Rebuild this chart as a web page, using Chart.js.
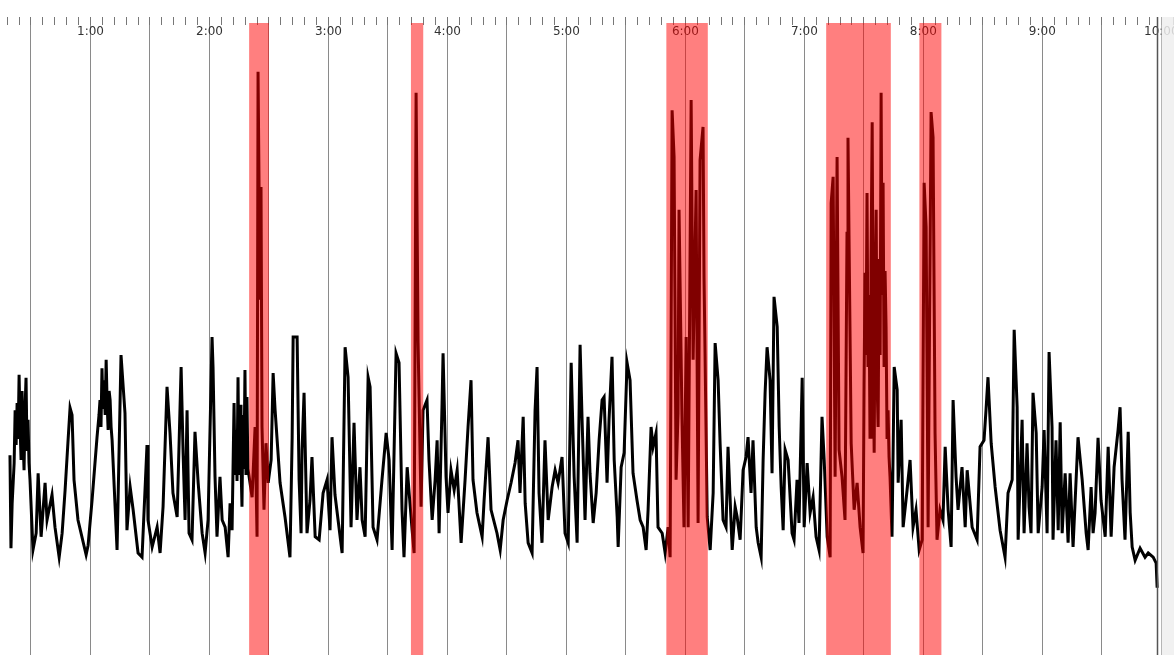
<!DOCTYPE html>
<html>
<head>
<meta charset="utf-8">
<script src="https://cdn.jsdelivr.net/npm/chart.js@4"></script>
<style>
  html, body { margin: 0; padding: 0; background: #fff; overflow: hidden; }
  #wrap { width: 1174px; height: 655px; position: relative; }
</style>
</head>
<body>
<div id="wrap"><canvas id="signalChart"></canvas></div>
<script>
// time in seconds, signal level (arbitrary units)
const times = [
  19.4, 19.9, 20.5, 21.5, 22.0, 22.5, 23.0, 23.5, 24.0, 24.5, 25.0, 25.5, 26.0, 26.5, 27.0, 27.5, 28.0, 28.5, 29.0, 29.5,
  31.0, 32.6, 33.6, 35.1, 37.1, 38.1, 40.6, 42.1, 44.2,
  45.7, 47.2, 48.7, 49.7, 50.7, 51.7, 53.7, 57.8, 58.8, 60.8,
  63.3, 64.3, 64.8, 65.3, 65.8, 66.3, 66.8, 67.4, 67.9, 68.4, 68.9, 69.4, 69.9, 70.4, 70.9,
  73.4, 75.4,
  77.4, 78.4, 80.0, 81.5, 84.0, 86.0, 88.5, 89.0, 91.1, 93.6, 95.1, 96.6, 98.6, 100.1, 101.6, 103.7, 105.7, 106.7, 107.7, 108.7,
  109.7, 111.2, 112.7, 114.3, 116.3, 117.8, 119.3, 121.3, 121.8, 122.8, 123.8, 125.3, 126.4, 127.9, 129.4, 130.4, 131.4,
  132.4, 132.9, 133.4, 133.9, 134.4, 134.9, 135.4, 135.9, 136.4, 136.9, 137.4, 137.9, 138.4, 138.9, 139.4, 140.0,
  141.5, 143.0, 144.0, 144.5, 145.5, 146.0, 146.5, 147.5, 148.5, 149.6, 151.1, 152.1, 153.1, 155.6, 158.1,
  160.6, 161.7, 162.2, 164.2, 165.2, 166.2, 166.7, 167.7, 169.2, 170.7, 171.7, 173.3, 175.3, 177.3, 179.3, 180.8, 181.8, 183.3, 186.9, 188.4,
  189.9, 191.4, 192.9, 194.4, 195.9, 197.0, 198.5, 200.0, 201.0, 202.5, 204.5, 207.0, 209.1, 210.6, 212.1, 214.1, 215.6, 217.1, 218.1, 219.7,
  220.7, 222.2, 223.2, 224.2, 225.2, 226.7, 227.7, 229.7, 230.7, 232.3, 233.8, 234.8, 235.8, 237.3, 237.8, 239.3, 240.3, 241.8, 243.4, 244.9,
  246.9, 248.9, 250.4, 251.9, 252.9, 254.9, 257.5, 258.5, 260.5, 262.0, 265.0, 266.6, 268.1, 270.1, 272.1, 274.1, 275.6, 276.6, 278.2, 279.2,
  280.7, 282.7, 284.2, 285.2, 286.2, 287.7, 289.2, 290.8, 292.8, 294.3, 295.8, 297.8, 299.3, 300.9, 302.4, 303.9, 305.4, 306.9, 307.9, 309.4,
  310.9, 311.9, 313.5, 315.0, 316.5, 318.0, 319.0, 320.5, 321.5, 323.0, 324.1, 325.6, 326.1, 327.6, 329.1, 330.6, 332.1, 333.6, 335.6, 337.2,
  338.7, 340.2, 341.2, 342.7, 343.7, 345.2, 346.2, 348.3, 349.8, 351.3, 352.3, 353.3, 354.3, 355.3, 356.3, 356.8, 358.3, 359.3, 360.4, 361.4,
  362.9, 363.9, 365.4, 366.4, 367.4, 368.9, 369.4, 370.4, 371.0, 372.5, 374.0, 375.0, 376.5, 377.5, 379.0, 380.5, 381.5, 383.6, 385.1, 386.1,
  387.6, 389.1, 390.6, 391.6, 393.1, 394.1, 395.7, 396.7, 398.2, 399.2, 400.2, 401.2, 402.7, 403.7, 404.7, 406.3, 407.3, 408.3, 409.3, 410.3,
  411.8, 413.8, 414.8, 416.3, 417.3, 418.9, 419.9, 421.4, 422.9, 424.4, 425.9, 427.4, 428.9, 430.0, 431.5, 433.0, 433.5, 434.5, 435.5, 436.5,
  437.5, 439.0, 440.5, 441.5, 442.0, 443.6, 445.1, 446.6, 448.1, 449.6,
  450.1, 450.6, 451.1, 451.6, 452.1, 452.6, 453.1, 453.6, 454.2, 454.7, 455.2, 455.7, 456.2, 456.7, 457.2, 457.7, 458.2, 458.7, 459.2, 459.7,
  460.2, 460.7, 461.2, 461.7, 462.2, 462.7, 463.2,
  464.2, 465.3, 466.8, 467.3, 468.8, 469.8, 471.8, 473.3, 474.8, 476.3, 477.9, 479.4, 480.4, 481.4, 482.4, 483.9, 484.9, 485.9,
  486.9, 488.4, 489.9, 491.0, 492.5, 494.0, 495.0, 496.5, 497.5, 499.5, 501.1, 502.1, 504.6, 507.1, 508.6, 510.6, 511.6, 512.6, 514.2, 516.2,
  518.7, 521.2, 522.7, 524.8, 525.8, 527.3, 527.8, 529.8, 530.8, 532.3, 533.3, 534.3, 535.3, 536.9, 537.9, 539.9, 540.9, 542.4, 543.4, 544.9,
  545.4, 546.9, 548.0, 549.0, 550.0, 551.5, 553.0, 554.0, 555.5, 558.0, 560.1, 562.1, 563.1, 564.6, 565.6, 566.6, 568.1, 569.6, 571.7, 573.2,
  574.7, 576.2, 578.2, 579.2, 580.2, 581.7, 583.3, 584.3, 585.3, 586.8, 589.3, 591.8, 593.4, 595.9, 597.4, 597.9
];
const values = [
  33.3, 17.8, 25.3, 32.0, 40.8, 35.0, 42.0, 36.0, 46.7, 38.0, 32.5, 44.0, 36.0, 30.8, 41.0, 46.2, 34.0, 39.2, 32.0, 29.2,
  17.5, 20.3, 30.3, 19.7, 28.7, 22.5, 26.7, 21.3, 16.3,
  20.3, 27.5, 35.8, 41.2, 40.0, 29.2, 22.5, 16.7, 18.3, 25.8,
  36.3, 40.0, 42.5, 38.0, 47.8, 41.0, 45.8, 40.0, 49.2, 42.0, 37.5, 44.0, 42.5, 38.0, 35.8,
  17.5, 50.0,
  40.3, 20.8, 28.0, 24.2, 17.0, 16.3, 35.0, 22.5, 18.0, 21.3, 17.0, 24.7, 44.7, 37.0, 27.0, 23.0, 48.0, 33.7, 22.5, 40.8,
  20.3, 19.2, 37.2, 28.7, 20.3, 17.0, 22.5, 53.0, 48.0, 29.7, 19.7, 29.7, 22.5, 21.3, 16.3, 25.3, 20.8,
  42.0, 30.0, 37.5, 29.0, 46.3, 30.0, 41.7, 32.0, 24.7, 40.0, 31.0, 47.5, 30.0, 43.0, 31.0, 29.7,
  26.3, 38.0, 19.7, 97.2, 59.2, 78.0, 38.0, 24.2, 35.3, 28.7, 32.5, 47.0, 40.8, 28.7, 23.0,
  16.3, 36.3, 53.0, 53.0, 29.2, 20.3, 34.2, 43.7, 20.3, 25.8, 33.0, 19.7, 19.2, 27.0, 29.2, 20.8, 36.3, 26.7, 17.0, 51.3,
  46.3, 21.3, 38.7, 22.5, 31.3, 22.5, 19.7, 46.3, 44.7, 21.3, 19.2, 29.2, 37.0, 32.5, 17.5, 50.3, 48.7, 24.2, 16.3, 31.3,
  27.0, 20.8, 17.0, 93.7, 52.0, 24.7, 40.8, 42.5, 32.5, 22.5, 29.2, 35.8, 20.3, 42.0, 50.3, 29.7, 23.7, 30.8, 27.5, 30.8,
  18.7, 29.2, 38.0, 45.8, 29.2, 23.7, 19.7, 25.8, 36.3, 24.2, 20.3, 17.5, 22.5, 25.8, 28.7, 32.0, 35.8, 27.0, 39.7, 25.3,
  18.7, 17.0, 40.8, 48.0, 27.0, 18.7, 35.8, 22.5, 28.0, 30.8, 28.7, 33.0, 20.3, 18.7, 48.7, 29.7, 18.7, 51.7, 39.2, 22.5,
  39.7, 30.3, 22.0, 27.0, 35.8, 42.5, 43.0, 28.7, 39.2, 49.7, 32.5, 23.0, 18.0, 31.3, 33.7, 48.7, 45.8, 30.3, 25.8, 22.5,
  21.3, 17.5, 24.2, 38.0, 34.7, 37.0, 21.3, 20.3, 17.0, 21.3, 16.3, 90.8, 83.0, 29.2, 40.3, 74.2, 39.2, 21.3, 53.0, 21.3,
  92.5, 49.2, 77.5, 22.0, 82.5, 88.0, 63.0, 38.0, 23.0, 17.5, 27.0, 52.0, 45.8, 35.3, 22.5, 21.3, 34.7, 17.5, 24.7, 23.0,
  19.2, 30.8, 33.0, 36.3, 27.0, 35.8, 21.3, 18.7, 16.3, 32.5, 43.7, 51.3, 45.8, 30.3, 59.7, 54.7, 38.0, 28.0, 20.8, 34.2,
  32.5, 20.3, 19.2, 29.2, 22.0, 46.2, 21.3, 32.0, 23.7, 26.3, 19.7, 17.5, 39.7, 32.5, 19.7, 16.3, 75.3, 79.7, 29.7, 83.0,
  34.2, 29.7, 22.5, 70.3, 86.2, 35.3, 24.2, 28.7, 21.3, 17.0,
  45.0, 63.7, 50.0, 77.0, 48.0, 60.0, 36.3, 65.0, 88.8, 50.0, 33.7, 62.0, 74.2, 45.0, 38.0, 66.0, 50.0, 93.7, 60.0, 78.7,
  48.0, 64.0, 54.7, 36.0, 40.8, 33.0, 29.7,
  19.7, 48.0, 44.2, 28.7, 39.2, 21.3, 27.5, 32.5, 21.3, 24.2, 17.5, 19.2, 78.7, 71.3, 21.3, 90.5, 86.3, 37.0,
  19.2, 24.2, 22.5, 34.7, 24.2, 18.0, 42.5, 29.7, 24.2, 31.3, 21.3, 30.8, 21.3, 19.2, 34.7, 35.8, 40.8, 46.3, 35.3, 28.0,
  20.8, 16.3, 27.0, 29.2, 54.2, 41.3, 19.2, 39.2, 20.3, 35.3, 24.7, 20.3, 43.7, 37.0, 20.3, 28.0, 37.5, 20.3, 50.5, 38.0,
  19.2, 35.8, 20.8, 38.8, 20.3, 30.3, 18.7, 30.3, 18.0, 36.3, 29.2, 20.3, 17.5, 28.0, 20.3, 23.7, 36.2, 25.8, 19.7, 34.7,
  19.7, 31.3, 37.5, 41.3, 29.2, 19.2, 37.2, 23.7, 18.0, 15.8, 17.8, 16.3, 17.0, 16.3, 15.3, 11.2
];

// highlighted intervals (seconds)
const bandStart = [140.0, 221.6, 350.4, 431.0, 478.0];
const bandEnd = [150.0, 227.8, 371.3, 463.6, 489.1];

const viewMin = 14.37;
const viewMax = 606.4;
const recordingEnd = 598;

function fmtTime(sec) {
  const m = Math.floor(sec / 60);
  const s = Math.round(sec % 60);
  return m + ':' + String(s).padStart(2, '0');
}

const points = times.map((t, i) => ({ x: t, y: values[i] }));

const overlayPlugin = {
  id: 'overlay',
  afterDraw(chart) {
    const { ctx, chartArea, scales } = chart;
    const xs = scales.x;
    ctx.save();
    ctx.fillStyle = 'rgba(255, 0, 0, 0.5)';
    for (let i = 0; i < bandStart.length; i++) {
      const x1 = xs.getPixelForValue(bandStart[i]);
      const x2 = xs.getPixelForValue(bandEnd[i]);
      ctx.fillRect(x1, chartArea.top - 2, x2 - x1, chartArea.bottom - chartArea.top + 2);
    }
    // end of recording marker + greyed area after it
    const xe = Math.round(xs.getPixelForValue(recordingEnd)) + 0.5;
    ctx.strokeStyle = '#555';
    ctx.lineWidth = 1.5;
    ctx.beginPath();
    ctx.moveTo(xe, chartArea.top - 8);
    ctx.lineTo(xe, chartArea.bottom);
    ctx.stroke();
    ctx.fillStyle = 'rgba(238, 238, 238, 0.85)';
    ctx.fillRect(xe + 4, chartArea.top - 8, chartArea.right - xe - 4, chartArea.bottom - chartArea.top + 8);
    ctx.restore();
  }
};

Chart.defaults.font.family = 'DejaVu Sans';

new Chart(document.getElementById('signalChart'), {
  type: 'line',
  data: {
    datasets: [{
      data: points,
      borderColor: '#000',
      borderWidth: 3,
      pointRadius: 0,
      tension: 0,
      fill: false
    }]
  },
  options: {
    responsive: true,
    maintainAspectRatio: false,
    animation: false,
    layout: { padding: { top: 17, left: 0, right: 0, bottom: 0 } },
    plugins: { legend: { display: false }, tooltip: { enabled: false } },
    scales: {
      x: {
        type: 'linear',
        position: 'top',
        min: viewMin,
        max: viewMax,
        border: { display: false },
        grid: {
          drawTicks: true,
          tickLength: 8,
          color: c => (c.tick && c.tick.value % 30 === 0) ? '#8a8a8a' : 'rgba(0,0,0,0)',
          tickColor: '#777',
          lineWidth: 1
        },
        ticks: {
          stepSize: 6,
          includeBounds: false,
          autoSkip: false,
          maxRotation: 0,
          minRotation: 0,
          mirror: true,
          padding: 0,
          color: '#333',
          font: { size: 12 },
          callback: v => (v % 60 === 0 ? fmtTime(v) : '')
        }
      },
      y: {
        display: false,
        min: 0,
        max: 105
      }
    }
  },
  plugins: [overlayPlugin]
});
</script>
</body>
</html>
